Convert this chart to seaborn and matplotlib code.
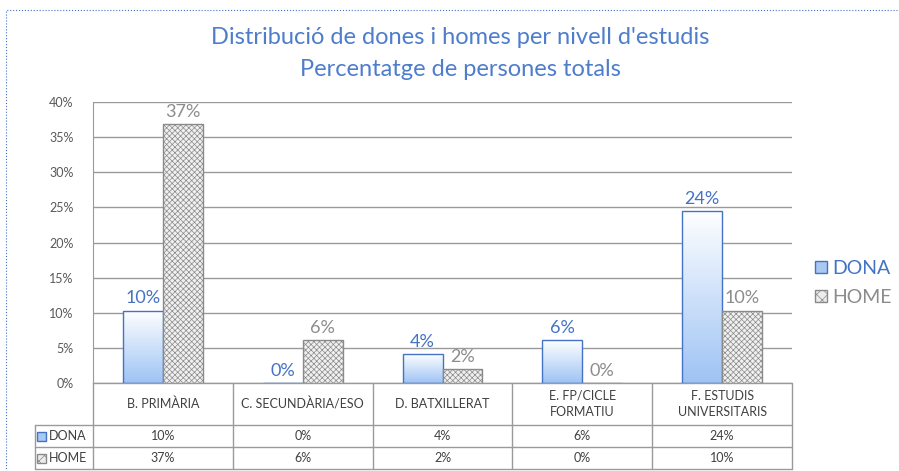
import numpy as np
import pandas as pd
import seaborn as sns
import matplotlib.pyplot as plt
from matplotlib.colors import LinearSegmentedColormap
from matplotlib.patches import Patch, Rectangle
import matplotlib.transforms as mtransforms

categories = ['B. PRIMÀRIA', 'C. SECUNDÀRIA/ESO', 'D. BATXILLERAT',
              'E. FP/CICLE\nFORMATIU', 'F. ESTUDIS\nUNIVERSITARIS']
dona = [10.3, 0.0, 4.1, 6.1, 24.5]
home = [36.8, 6.1, 2.0, 0.0, 10.3]
dona_labels = ['10%', '0%', '4%', '6%', '24%']
home_labels = ['37%', '6%', '2%', '0%', '10%']
series = ['DONA', 'HOME']
yticks = [0, 5, 10, 15, 20, 25, 30, 35, 40]

sns.set_style('white')
plt.rcParams['font.family'] = ['Lato', 'DejaVu Sans']
plt.rcParams['hatch.linewidth'] = 0.5

blue = '#4472C4'
gray_txt = '#8C8C8C'
grid_c = '#9A9A9A'

df = pd.DataFrame({
    'cat': categories * 2,
    'serie': ['DONA'] * 5 + ['HOME'] * 5,
    'val': dona + home,
})

fig = plt.figure(figsize=(8.99, 4.71), dpi=100)
ax = fig.add_axes([93 / 899, 1 - 383 / 471, 699 / 899, 281 / 471])

sns.barplot(data=df, x='cat', y='val', hue='serie', order=categories,
            hue_order=series, width=0.57, ax=ax, legend=False,
            palette=['#ffffff', '#e6e6e6'])

ax.set_xlim(-0.5, 4.5)
ax.set_ylim(0, 40)
ax.set_yticks(yticks)
ax.set_yticklabels([f'{t}%' for t in yticks], color='#595959', fontsize=9)
ax.tick_params(axis='y', length=0, pad=14)
ax.set_xticks([])
ax.set_xlabel('')
ax.set_ylabel('')
ax.grid(axis='y', color=grid_c, linewidth=1)
ax.set_axisbelow(True)
for s in ['top', 'right', 'bottom']:
    ax.spines[s].set_visible(False)
ax.spines['left'].set_color(grid_c)

# bars styling
cmap = LinearSegmentedColormap.from_list('g', ['#ffffff', '#9ec3f4'])
grad = np.linspace(0, 1, 256).reshape(-1, 1)
dona_bars = ax.containers[0]
home_bars = ax.containers[1]
for bar in dona_bars:
    bar.set_facecolor('none')
    bar.set_edgecolor(blue)
    bar.set_linewidth(1)
    bar.set_zorder(3)
    h = bar.get_height()
    if h > 0:
        x0 = bar.get_x()
        w = bar.get_width()
        im = ax.imshow(grad, extent=[x0, x0 + w, 0, h], origin='upper',
                       cmap=cmap, aspect='auto', zorder=2)
        im.set_clip_path(bar)
for bar in home_bars:
    bar.set_facecolor('#f0f0f0')
    bar.set_edgecolor('#8a8a8a')
    bar.set_hatch('xxxxxx')
    bar.set_linewidth(1)
    bar.set_zorder(3)
ax.set_xlim(-0.5, 4.5)
ax.set_ylim(0, 40)

# data labels
for bar, lab in zip(dona_bars, dona_labels):
    ax.annotate(lab, (bar.get_x() + bar.get_width() / 2, bar.get_height()),
                xytext=(0, 3), textcoords='offset points', ha='center',
                va='bottom', color=blue, fontsize=13, zorder=5)
for bar, lab in zip(home_bars, home_labels):
    ax.annotate(lab, (bar.get_x() + bar.get_width() / 2, bar.get_height()),
                xytext=(0, 3), textcoords='offset points', ha='center',
                va='bottom', color=gray_txt, fontsize=13, zorder=5,
                annotation_clip=False)

# data table
trans = mtransforms.blended_transform_factory(ax.transData, ax.transAxes)
r1 = -(425 - 383) / 281
r2 = -(447 - 383) / 281
r3 = -(469 - 383) / 281
xl = (35 - 93) / 699
line_kw = dict(color=grid_c, linewidth=1, clip_on=False)
ax.plot([0, 1], [0, 0], transform=ax.transAxes, **line_kw)
for yy in [r1, r2, r3]:
    ax.plot([xl, 1], [yy, yy], transform=ax.transAxes, **line_kw)
for xb in np.arange(-0.5, 5, 1):
    ax.plot([xb, xb], [0, r3], transform=trans, **line_kw)
ax.plot([xl, xl], [r1, r3], transform=ax.transAxes, **line_kw)

tcol = '#404040'
for i, c in enumerate(categories):
    ax.text(i, r1 / 2, c, transform=trans, ha='center', va='center',
            fontsize=9, color=tcol, linespacing=1.5)
    ax.text(i, (r1 + r2) / 2, dona_labels[i], transform=trans, ha='center',
            va='center', fontsize=9, color=tcol)
    ax.text(i, (r2 + r3) / 2, home_labels[i], transform=trans, ha='center',
            va='center', fontsize=9, color=tcol)

mw, mh = 9 / 699, 9 / 281
mx = (37 - 93) / 699
for yy, name in [((r1 + r2) / 2, 'DONA'), ((r2 + r3) / 2, 'HOME')]:
    if name == 'DONA':
        p = Rectangle((mx, yy - mh / 2), mw, mh, transform=ax.transAxes,
                      facecolor='#a9c8f2', edgecolor=blue, clip_on=False)
    else:
        p = Rectangle((mx, yy - mh / 2), mw, mh, transform=ax.transAxes,
                      facecolor='#ececec', edgecolor='#8a8a8a', hatch='xxx',
                      clip_on=False)
    ax.add_patch(p)
    ax.text(mx + mw + 0.004, yy, name, transform=ax.transAxes, ha='left',
            va='center', fontsize=9, color=tcol)

# legend
handles = [Patch(facecolor='#a9c8f2', edgecolor=blue, label='DONA'),
           Patch(facecolor='#ececec', edgecolor='#8a8a8a', hatch='xxx',
                 label='HOME')]
leg = fig.legend(handles=handles, loc='center left',
                 bbox_to_anchor=(815 / 899, 1 - 283 / 471), frameon=False,
                 fontsize=14, handlelength=0.6, handleheight=0.6,
                 handletextpad=0.3, labelspacing=0.6, borderpad=0,
                 borderaxespad=0)
for t, c in zip(leg.get_texts(), [blue, gray_txt]):
    t.set_color(c)

# title
fig.text(0.512, 1 - 38 / 471, "Distribució de dones i homes per nivell d'estudis",
         ha='center', va='center', fontsize=17, color='#4D7DCB')
fig.text(0.512, 1 - 70 / 471, 'Percentatge de persones totals',
         ha='center', va='center', fontsize=17, color='#4D7DCB')

# outer dotted frame
fig.add_artist(Rectangle((6 / 899, -0.2), 1.2, 1.2 - 10 / 471,
                         transform=fig.transFigure, fill=False,
                         edgecolor=blue, linestyle=':', linewidth=0.8))

fig.savefig('out.png', dpi=100)
